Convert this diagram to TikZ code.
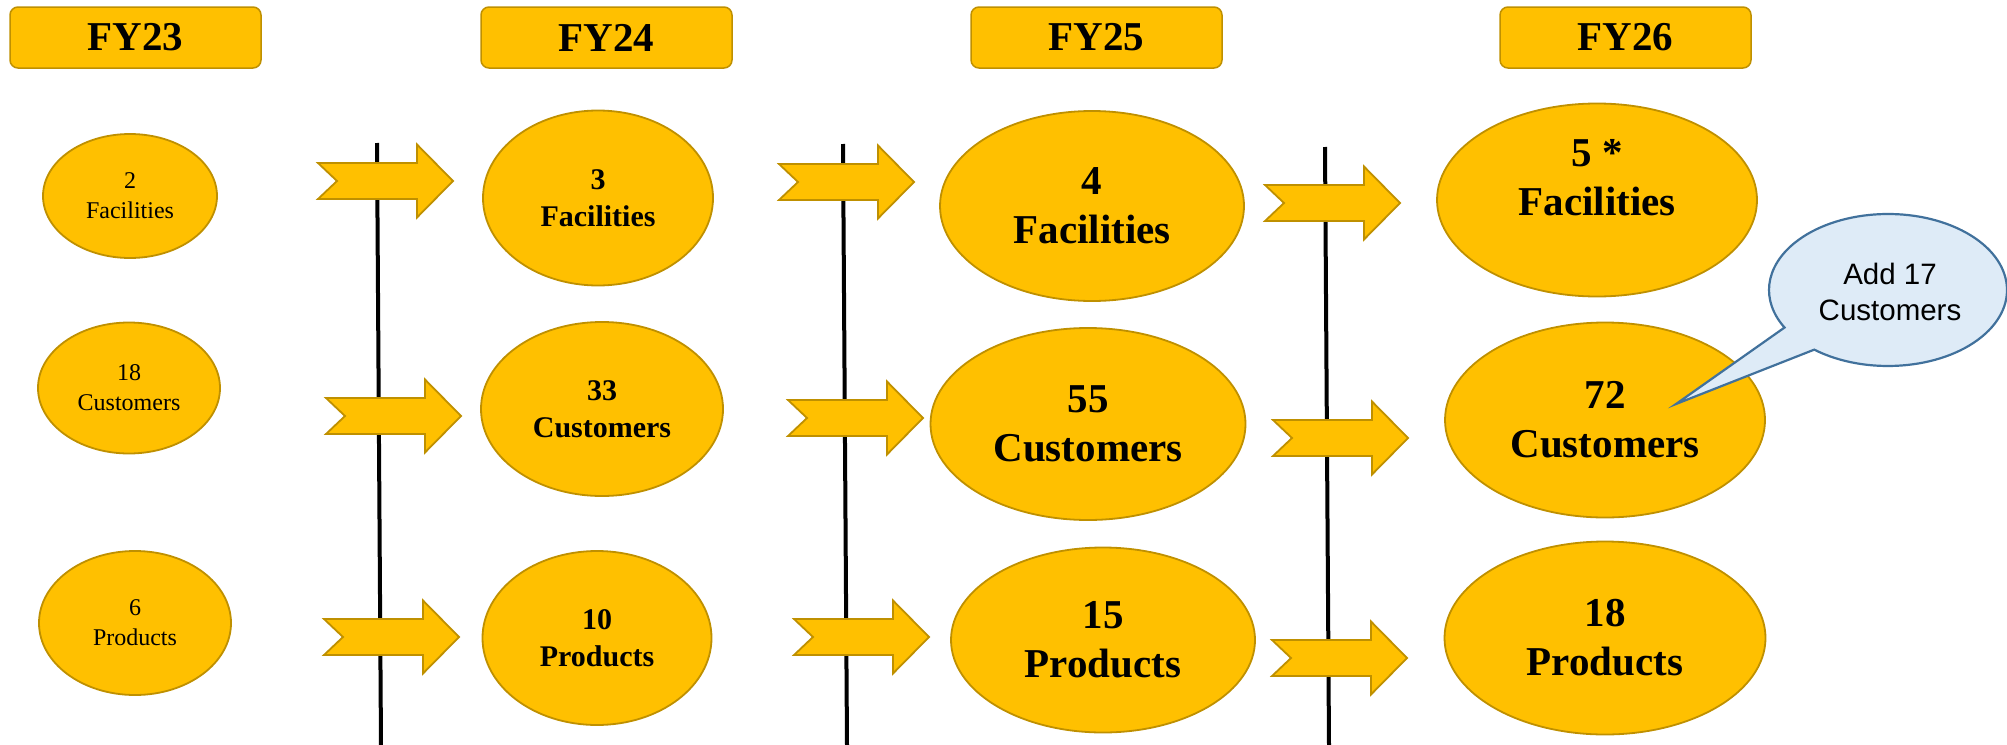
\documentclass[tikz,border=0pt]{standalone}
\usepackage{fontspec}
\setmainfont{Liberation Serif}
\newfontfamily\calloutfont{Liberation Sans}
\usetikzlibrary{shapes.geometric}
\definecolor{gold}{HTML}{FFC000}
\definecolor{goldedge}{HTML}{BF9000}
\definecolor{callfill}{HTML}{DEEBF7}
\definecolor{calledge}{HTML}{41719C}
\begin{document}
\begin{tikzpicture}[x=1pt,y=-1pt,
  hdr/.style={draw=goldedge, fill=gold, line width=1.5pt, rounded corners=8pt,
    minimum width=251pt, minimum height=61pt, inner sep=0pt,
    font=\fontsize{41}{49}\selectfont\bfseries},
  oval/.style={ellipse, draw=goldedge, fill=gold, line width=1.8pt, inner sep=0pt, align=center},
  smalloval/.style={oval, font=\fontsize{24}{30}\selectfont},
  midoval/.style={oval, font=\fontsize{30}{37}\selectfont\bfseries},
  bigoval/.style={oval, font=\fontsize{41}{49}\selectfont\bfseries},
  vline/.style={line width=4pt, black},
  blk/.style={draw=goldedge, fill=gold, line width=1.8pt, line join=miter},
  blockarrow/.pic={\path[blk] (0,-18) -- (99,-18) -- (99,-36.5) -- (135,0) -- (99,36.5) -- (99,18) -- (0,18) -- (19,0) -- cycle;}
]
\useasboundingbox (0,0) rectangle (2007,744);

% vertical separators
\draw[vline] (377,143) -- (381,746);
\draw[vline] (843,144) -- (847,746);
\draw[vline] (1325,147) -- (1329,746);

% block arrows
\pic at (318,181) {blockarrow};
\pic at (779,182) {blockarrow};
\pic at (1265,203) {blockarrow};
\pic at (326,416) {blockarrow};
\pic at (788,418) {blockarrow};
\pic at (1273,438) {blockarrow};
\pic at (324,637) {blockarrow};
\pic at (794,637) {blockarrow};
\pic at (1272,658) {blockarrow};

% headers
\node[hdr] (fy23) at (135.5,37.5) {FY23};
\node[hdr] (fy24) at (606.5,37.5) {FY24};
\node[hdr] (fy25) at (1096.5,37.5) {FY25};
\node[hdr] (fy26) at (1625.5,37.5) {FY26};

% column FY23
\node[smalloval, minimum width=174pt, minimum height=124pt] (e11) at (130,196) {2\\Facilities};
\node[smalloval, minimum width=182pt, minimum height=131pt] (e21) at (129,388) {18\\Customers};
\node[smalloval, minimum width=192pt, minimum height=144pt] (e31) at (135,623) {6\\Products};

% column FY24
\node[midoval, minimum width=230pt, minimum height=175pt] (e12) at (598,198) {3\\Facilities};
\node[midoval, minimum width=242pt, minimum height=174pt] (e22) at (602,409) {33\\Customers};
\node[midoval, minimum width=229pt, minimum height=174pt] (e32) at (597,638) {10\\Products};

% column FY25
\node[bigoval, minimum width=304pt, minimum height=190pt] (e13) at (1092,206) {4\\Facilities};
\node[bigoval, minimum width=315pt, minimum height=192pt] (e23) at (1088,424) {55\\Customers};
\node[bigoval, minimum width=304pt, minimum height=185pt] (e33) at (1103,640) {15\\Products};

% column FY26
\node[bigoval, minimum width=320pt, minimum height=193pt] (e14) at (1597,200) {};
\node[font=\fontsize{41}{49}\selectfont\bfseries, align=center, inner sep=0pt] (t14) at (1597,178) {5 *\\Facilities};
\node[bigoval, minimum width=320pt, minimum height=195pt] (e24) at (1605,420) {72\\Customers};
\node[bigoval, minimum width=321pt, minimum height=193pt] (e34) at (1605,638) {18\\Products};

% callout
\coordinate (cc) at (1888,290);
\coordinate (tip) at (1676,404);
\draw[draw=calledge, fill=callfill, line width=2.2pt, line join=miter]
  (1814.24,349.63) arc[start angle=128.3, end angle=-209.6, x radius=119, y radius=76] -- (tip) -- cycle;
\node[font=\calloutfont\fontsize{29.5}{36}\selectfont, align=center, inner sep=0pt] (callout) at (1890,292) {Add 17\\Customers};
\end{tikzpicture}
\end{document}
